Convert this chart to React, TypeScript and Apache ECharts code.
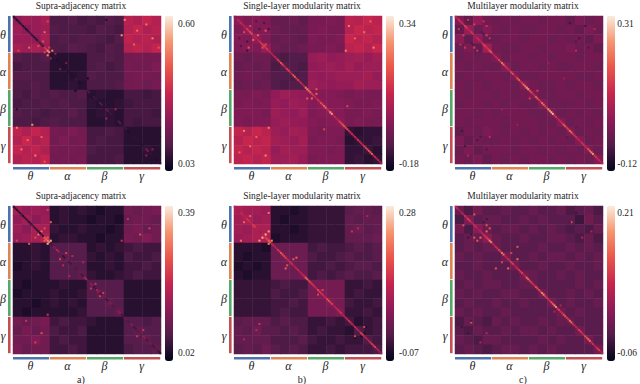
import React, { useEffect, useRef } from "react";
import * as echarts from "echarts";

const bandLabels = ["θ", "α", "β", "γ"];
const bandColors = ["#4c72b0", "#dd8452", "#55a868", "#c44e52"];
const rocket = ["#03051a", "#531c4a", "#8e1b58", "#c7254e", "#ea554a", "#f59570", "#faebdd"];
const panelTitles = ["Supra-adjacency matrix", "Single-layer modularity matrix", "Multilayer modularity matrix"];
const panelCaptions = ["a)", "b)", "c)"];

// values in hundredths, rows θ α β γ, four coarse cells per band
const supraTop = [
  [22,24,23,25,10,10,11,9,10,9,11,10,29,27,31,28],
  [24,21,23,24,11,10,10,10,9,11,10,9,28,31,27,29],
  [23,23,22,26,10,11,10,11,11,10,9,11,30,28,29,27],
  [25,24,26,24,10,10,12,11,10,9,11,10,28,30,28,31],
  [11,10,10,11,5,5,5,5,10,10,11,10,16,17,16,17],
  [9,10,10,10,5,5,5,5,10,11,9,10,17,16,16,18],
  [11,11,10,10,5,5,5,6,11,10,10,10,16,17,17,16],
  [10,10,11,10,5,5,6,5,10,10,10,11,16,17,15,17],
  [10,9,11,10,11,10,10,11,5,6,5,5,9,9,8,9],
  [9,10,10,11,10,11,10,10,6,5,5,6,8,9,9,9],
  [11,10,10,9,10,10,12,10,5,6,6,5,9,9,9,8],
  [10,10,9,10,11,10,10,10,5,5,6,5,9,8,9,9],
  [30,27,31,28,17,16,18,16,9,9,10,9,5,5,5,5],
  [28,32,27,29,16,18,16,17,9,10,9,9,5,5,5,5],
  [31,28,30,27,17,16,17,16,10,9,9,9,5,5,6,5],
  [27,29,28,31,16,17,16,17,9,9,9,10,5,5,5,5],
];
const singleTop = [
  [-2,-4,-3,-4,-8,-8,-7,-9,-5,-5,-4,-5,6,5,8,6],
  [-4,-1,-4,-3,-7,-8,-8,-8,-5,-4,-5,-5,5,8,6,7],
  [-3,-4,-1,-4,-8,-7,-8,-9,-4,-5,-5,-4,8,6,7,5],
  [-4,-3,-4,0,-7,-8,-8,-7,-5,-5,-4,-5,6,7,5,8],
  [-7,-8,-7,-7,-11,-12,-11,-11,0,1,-1,0,1,2,0,2],
  [-8,-7,-8,-7,-12,-11,-11,-12,-1,0,1,0,2,0,1,1],
  [-7,-6,-7,-8,-11,-11,-12,-11,0,-1,0,1,1,1,2,0],
  [-8,-7,-8,-7,-11,-12,-11,-11,1,0,-1,0,0,2,1,1],
  [-5,-5,-4,-5,-1,1,0,-1,-3,-3,-3,-4,-5,-4,-5,-5],
  [-5,-4,-5,-4,0,-1,1,0,-3,-2,-3,-3,-4,-5,-5,-4],
  [-4,-4,-4,-5,1,0,-1,1,-4,-3,-2,-3,-5,-5,-4,-5],
  [-4,-5,-4,-4,0,1,0,-1,-3,-4,-3,-2,-5,-4,-5,-5],
  [7,5,8,6,1,0,2,1,-4,-5,-4,-4,-15,-16,-15,-15],
  [5,8,6,7,2,1,0,2,-5,-4,-4,-5,-16,-15,-15,-14],
  [7,5,7,6,0,2,1,1,-4,-4,-5,-4,-15,-15,-14,-16],
  [6,7,5,7,1,1,2,0,-5,-4,-4,-4,-15,-14,-16,-15],
];
const multiTop = [
  [0,-4,2,-2,-3,-2,-3,-2,-2,-3,-2,-2,-4,-1,-3,-2],
  [-4,3,-3,0,-2,-3,-2,-3,-3,-2,-2,-3,-2,-4,-1,-3],
  [1,-4,2,-3,-3,-2,-2,-3,-2,-2,-3,-2,-3,-2,-4,-1],
  [-3,-1,-4,4,-2,-3,-3,-2,-2,-3,-2,-2,-1,-3,-2,-4],
  [-3,-2,-3,-2,-1,-3,-2,-2,-3,-2,-3,-2,-2,-3,-2,-2],
  [-2,-3,-2,-3,-3,0,-3,-2,-2,-3,-2,-3,-3,-2,-2,-3],
  [-3,-2,-3,-2,-2,-3,-1,-3,-3,-2,-2,-2,-2,-3,-3,-2],
  [-2,-3,-2,-3,-2,-2,-3,0,-2,-3,-3,-2,-3,-2,-2,-3],
  [-2,-3,-2,-2,-3,-2,-3,-2,-1,-3,-3,-2,-2,-3,-2,-2],
  [-3,-2,-2,-3,-2,-3,-2,-3,-3,0,-3,-3,-3,-2,-3,-2],
  [-2,-2,-3,-2,-3,-2,-2,-2,-3,-3,-1,-3,-2,-3,-2,-3],
  [-2,-3,-2,-2,-2,-3,-2,-2,-2,-3,-3,0,-3,-2,-3,-2],
  [-4,-2,-3,-1,-2,-3,-2,-3,-2,-3,-2,-3,-1,-3,-2,-3],
  [-1,-4,-2,-3,-3,-2,-3,-2,-3,-2,-3,-2,-3,0,-3,-2],
  [-3,-1,-4,-2,-2,-2,-3,-2,-2,-3,-2,-3,-2,-3,-1,-3],
  [-2,-3,-1,-4,-2,-3,-2,-3,-2,-2,-3,-2,-3,-2,-3,0],
];
const supraBottom = [
  [16,14,15,14,3,4,3,4,3,2,3,3,10,9,10,11],
  [14,16,13,15,3,4,3,3,2,3,3,2,9,10,10,9],
  [15,13,17,16,4,3,3,4,3,3,2,3,10,11,9,10],
  [14,15,16,18,3,4,4,3,3,2,3,3,11,10,12,10],
  [3,3,4,3,7,7,7,7,3,4,3,4,5,6,5,5],
  [3,3,4,3,7,8,7,7,4,3,4,3,6,5,5,6],
  [2,3,4,3,7,7,7,7,3,3,4,3,5,5,6,5],
  [3,3,3,3,7,7,7,8,4,3,3,4,5,6,5,5],
  [3,2,3,3,3,4,3,3,7,7,7,7,3,3,3,3],
  [2,3,3,3,4,3,3,4,7,8,7,7,3,3,3,3],
  [3,3,2,3,4,3,4,3,7,7,8,7,3,3,3,3],
  [3,2,3,3,3,3,3,4,7,7,7,8,3,3,3,3],
  [10,9,10,11,5,6,5,5,4,3,3,3,7,7,6,7],
  [9,11,9,10,6,5,5,6,3,3,3,3,7,8,7,7],
  [10,10,12,10,5,6,5,5,3,3,3,3,7,7,8,7],
  [11,9,10,10,5,5,6,5,3,3,3,3,6,7,7,8],
];
const singleBottom = [
  [7,6,6,5,-6,-6,-7,-6,-5,-5,-5,-5,-2,-1,-1,-2],
  [6,7,5,6,-6,-7,-6,-6,-5,-5,-5,-5,-1,-2,-1,-1],
  [6,5,7,7,-6,-6,-7,-6,-5,-5,-5,-5,-1,0,-2,-1],
  [5,6,7,8,-7,-6,-6,-6,-5,-5,-5,-5,-1,-1,-1,0],
  [-6,-6,-6,-7,0,0,0,0,-4,-3,-4,-4,-3,-2,-3,-2],
  [-6,-7,-6,-6,0,1,0,0,-3,-4,-4,-3,-2,-3,-3,-2],
  [-7,-6,-7,-6,0,0,0,0,-4,-4,-3,-4,-3,-2,-2,-3],
  [-6,-7,-6,-6,0,0,0,1,-4,-3,-4,-3,-2,-3,-3,-2],
  [-5,-5,-5,-5,-4,-3,-4,-4,1,1,1,1,-5,-5,-4,-5],
  [-5,-5,-5,-5,-3,-4,-4,-3,1,2,1,1,-5,-4,-5,-5],
  [-5,-5,-5,-5,-4,-4,-3,-4,1,1,2,1,-4,-5,-5,-4],
  [-5,-5,-5,-5,-4,-3,-4,-4,1,1,1,2,-5,-5,-4,-5],
  [-2,-1,-1,-1,-3,-2,-3,-3,-5,-5,-4,-5,-4,-6,-5,-4],
  [-1,-2,0,-2,-2,-3,-2,-3,-5,-4,-5,-5,-6,-3,-5,-4],
  [-1,-1,-1,-1,-3,-3,-3,-2,-4,-5,-5,-4,-5,-5,-3,-4],
  [-2,-1,-2,0,-2,-3,-2,-3,-5,-5,-4,-5,-4,-4,-4,-3],
];
const multiBottom = [
  [-1,-3,0,-2,-2,-1,-2,-2,-1,-2,-2,-1,-3,-2,-1,-3],
  [-3,1,-2,-1,-1,-2,-2,-1,-2,-1,-2,-2,-2,-4,0,-2],
  [0,-3,2,-1,-2,-1,-1,-2,-1,-2,-1,-2,-3,-2,-3,-1],
  [-2,-1,-1,2,-1,-2,-2,-1,-2,-2,-1,-1,-2,-3,-1,-3],
  [-2,-1,-2,-1,-1,-2,-2,-2,-2,-1,-2,-2,-1,-2,-1,-2],
  [-1,-2,-1,-2,-2,0,-2,-2,-1,-2,-1,-1,-2,-1,-2,-1],
  [-2,-2,-1,-2,-2,-2,0,-2,-2,-1,-2,-2,-1,-2,-2,-1],
  [-1,-2,-2,-1,-2,-2,-2,0,-1,-2,-2,-1,-2,-1,-2,-2],
  [-2,-1,-2,-1,-1,-2,-2,-1,-1,-2,-2,-2,-2,-1,-2,-1],
  [-1,-2,-1,-2,-2,-1,-1,-2,-2,0,-2,-2,-1,-2,-1,-2],
  [-2,-1,-2,-2,-1,-2,-2,-1,-2,-2,0,-2,-1,-2,-2,-1],
  [-1,-2,-1,-2,-2,-1,-2,-2,-2,-2,-2,0,-2,-1,-2,-2],
  [-3,-1,-2,-3,-1,-2,-1,-2,-2,-1,-2,-1,-1,-2,-2,-2],
  [-2,-3,-1,-2,-2,-1,-2,-1,-1,-2,-1,-2,-2,0,-2,-2],
  [-1,-2,-3,-1,-1,-2,-2,-2,-2,-1,-2,-1,-2,-2,0,-2],
  [-2,-1,-2,-3,-2,-1,-1,-2,-1,-2,-1,-2,-2,-2,-2,0],
];

// main diagonal, 12 values per band
const supraTopDiag = [5,4,6,5,4,8,6,5,10,8,35,52,5,6,4,5,4,6,5,4,8,4,5,6,10,5,8,6,12,6,14,8,6,5,12,7,8,4,5,6,6,5,7,18,6,5,4,6];
const singleTopDiag = [-2,6,8,4,12,16,6,4,10,14,12,8,6,8,12,16,8,14,8,18,12,8,6,24,20,12,8,10,16,20,10,28,8,6,14,18,16,10,8,6,10,8,14,16,18,8,6,4];
const multiTopDiag = [8,12,10,14,8,12,6,10,8,14,12,18,8,10,14,20,12,10,16,8,18,12,20,26,16,10,18,12,20,14,24,28,12,8,10,18,14,20,12,10,8,12,10,18,24,12,10,8];
const supraBottomDiag = [3,3,4,3,4,3,5,4,3,4,28,32,5,12,18,8,4,10,5,8,6,9,5,18,8,14,5,16,6,10,5,12,6,8,14,5,9,6,12,5,7,8,14,6,10,5,7,4];
const singleBottomDiag = [8,6,10,8,12,10,14,8,6,10,14,18,10,8,12,16,14,10,12,8,10,8,10,18,14,12,10,14,12,10,16,14,8,10,12,8,10,12,8,10,8,14,10,8,12,14,8,6];
const multiBottomDiag = [8,4,6,8,10,6,8,4,6,8,10,16,6,8,10,14,6,8,10,6,8,10,6,14,10,8,12,10,16,10,8,12,16,10,8,12,10,14,8,6,10,8,12,14,8,6,10,6];

// isolated cells [x, y, value in hundredths] on a 96-cell grid, mirrored across the diagonal
const supraTopSpots = [[22,25,50],[20,23,38],[10,20,45],[16,19,40],[3,22,38],[5,86,48],[12,70,52],[18,78,44],[72,2,50],[80,9,46],[90,14,50],[94,20,42],[24,27,24],[60,66,26],[86,90,22],[30,34,18],[2,60,4],[40,48,2]];
const singleTopSpots = [[12,15,20],[18,20,16],[6,10,14],[20,9,18],[4,19,-12],[8,22,-14],[14,3,-12],[16,8,-13],[50,53,20],[47,53,18],[58,73,14],[6,74,24],[10,84,22],[20,90,26],[14,78,20],[3,88,20],[22,72,24]];
const multiTopSpots = [[5,12,14],[12,20,14],[3,18,11],[20,6,12],[15,22,-6],[8,3,-7],[18,11,-7],[22,14,12],[10,17,-6],[2,8,12],[48,53,13],[72,78,-6],[74,4,-8],[80,14,-8],[86,20,-7],[90,8,8],[78,22,10],[84,6,-8],[78,16,-7],[60,30,4],[70,40,4]];
const supraBottomSpots = [[22,24,36],[10,24,28],[20,22,28],[14,20,26],[16,18,30],[2,22,24],[30,34,24],[32,38,20],[36,45,18],[50,53,22],[56,58,24],[80,84,22],[18,82,26],[8,74,22],[14,88,24],[22,70,22]];
const singleBottomSpots = [[18,20,26],[16,22,24],[6,10,18],[22,24,22],[4,22,20],[34,38,16],[33,40,18],[54,57,14],[80,75,-6],[84,82,-7],[78,85,-8],[14,80,10],[16,76,12],[84,78,14],[6,86,8]];
const multiBottomSpots = [[5,12,12],[12,20,12],[3,10,-3],[16,20,14],[20,8,-4],[10,18,-4],[22,14,12],[34,40,14],[30,36,10],[40,26,12],[4,78,-4],[8,82,-4],[75,10,12],[82,20,6],[78,4,-4],[10,74,-3],[16,88,6],[64,68,6]];

const matrices = [supraTop, singleTop, multiTop, supraBottom, singleBottom, multiBottom];
const diagonals = [supraTopDiag, singleTopDiag, multiTopDiag, supraBottomDiag, singleBottomDiag, multiBottomDiag];
const spots = [supraTopSpots, singleTopSpots, multiTopSpots, supraBottomSpots, singleBottomSpots, multiBottomSpots];
const ranges = [[0.0015,0.633],[-0.206,0.37],[-0.142,0.335],[-0.002,0.409],[-0.091,0.298],[-0.076,0.224]];
const ticks = [[0.03,0.6],[-0.18,0.34],[-0.12,0.31],[0.02,0.39],[-0.07,0.28],[-0.06,0.21]];

const heatLefts = [13, 234, 455];
const barLefts = [165, 386, 607];
const rowTops = [16, 206];
const heatSize = 148;
const barHeight = 155;
const serif = "Liberation Serif";
const textColor = "#262626";

function coarseCells(matrix: number[][]) {
  const out: number[][] = [];
  matrix.forEach((r, y) => r.forEach((v, x) => out.push([x, y, v / 100])));
  return out;
}
function fineCells(diag: number[], pts: number[][]) {
  const out: number[][] = [];
  pts.forEach(([x, y, v]) => { out.push([x, y, v / 100]); out.push([y, x, v / 100]); });
  diag.forEach((v, i) => { out.push([2 * i, 2 * i, v / 100]); out.push([2 * i + 1, 2 * i + 1, v / 100]); });
  return out;
}

export default function App() {
  const ref = useRef<HTMLDivElement>(null);
  useEffect(() => {
    document.body.style.margin = "0";
    const chart = echarts.init(ref.current!, undefined, { renderer: "svg" });
    const coarse = Array.from({ length: 16 }, (_, i) => String(i));
    const fine = Array.from({ length: 96 }, (_, i) => String(i));
    const grid: any[] = [], xAxis: any[] = [], yAxis: any[] = [], series: any[] = [];
    const visualMap: any[] = [], title: any[] = [], graphic: any[] = [];
    matrices.forEach((m, p) => {
      const col = p % 3, row = Math.floor(p / 3);
      const hl = heatLefts[col], top = rowTops[row];
      grid.push({ left: hl, top, width: heatSize, height: heatSize });
      xAxis.push({ type: "category", data: coarse, gridIndex: p, show: false });
      yAxis.push({ type: "category", data: coarse, gridIndex: p, show: false, inverse: true });
      series.push({
        type: "heatmap", xAxisIndex: p, yAxisIndex: p, data: coarseCells(m),
        progressive: 0, silent: true, emphasis: { disabled: true },
      });
      visualMap.push({
        type: "continuous", seriesIndex: [p, p + 6], dimension: 2, min: ranges[p][0], max: ranges[p][1],
        calculable: false, hoverLink: false, inRange: { color: rocket }, padding: 0,
        left: barLefts[col], top, itemWidth: 8, itemHeight: barHeight, text: null, orient: "vertical",
      });
      title.push({
        text: panelTitles[col], left: hl + 68, top: top - 15, textAlign: "center", padding: 0,
        textStyle: { fontFamily: serif, fontSize: 9.5, fontWeight: "normal", color: textColor },
      });
      const seg = heatSize / 4;
      bandColors.forEach((c, b) => {
        graphic.push({ type: "rect", silent: true, shape: { x: hl - 5, y: top + b * seg, width: 2.6, height: seg - 0.8 }, style: { fill: c } });
        graphic.push({ type: "rect", silent: true, shape: { x: hl + b * seg, y: top + heatSize + 3, width: seg - 0.8, height: 2.6 }, style: { fill: c } });
        graphic.push({ type: "text", silent: true, style: { text: bandLabels[b], x: hl - 10, y: top + b * seg + seg / 2, align: "center", verticalAlign: "middle", fontFamily: serif, fontStyle: "italic", fontSize: 12, fill: textColor } });
        graphic.push({ type: "text", silent: true, style: { text: bandLabels[b], x: hl + b * seg + seg / 2 - 1, y: top + heatSize + 12, align: "center", verticalAlign: "middle", fontFamily: serif, fontStyle: "italic", fontSize: 12, fill: textColor } });
      });
      if (row === 1) {
        graphic.push({ type: "text", silent: true, style: { text: panelCaptions[col], x: hl + 68, y: 379, align: "center", verticalAlign: "middle", fontFamily: serif, fontSize: 10, fill: textColor } });
      }
    });
    matrices.forEach((_, p) => {
      const col = p % 3, row = Math.floor(p / 3);
      const g = grid.length;
      grid.push({ left: heatLefts[col], top: rowTops[row], width: heatSize, height: heatSize });
      xAxis.push({ type: "category", data: fine, gridIndex: g, show: false });
      yAxis.push({ type: "category", data: fine, gridIndex: g, show: false, inverse: true });
      series.push({
        type: "heatmap", xAxisIndex: g, yAxisIndex: g, data: fineCells(diagonals[p], spots[p]),
        progressive: 0, silent: true, emphasis: { disabled: true },
      });
    });
    matrices.forEach((_, p) => {
      const col = p % 3, row = Math.floor(p / 3);
      const g = grid.length;
      grid.push({ left: barLefts[col], top: rowTops[row], width: 8, height: barHeight });
      xAxis.push({ type: "value", gridIndex: g, show: false });
      yAxis.push({
        type: "value", gridIndex: g, position: "right", min: ranges[p][0], max: ranges[p][1],
        axisLine: { show: false }, splitLine: { show: false },
        axisTick: { show: true, length: 3, customValues: ticks[p], lineStyle: { color: textColor, width: 1 } },
        axisLabel: { show: true, customValues: ticks[p], margin: 5, fontFamily: serif, fontSize: 9.5, color: textColor, formatter: (v: number) => v.toFixed(2) },
      });
    });
    chart.setOption({ animation: false, backgroundColor: "#fff", title, grid, xAxis, yAxis, visualMap, series, graphic });
    return () => chart.dispose();
  }, []);
  return <div ref={ref} style={{ width: 640, height: 384 }} />;
}
